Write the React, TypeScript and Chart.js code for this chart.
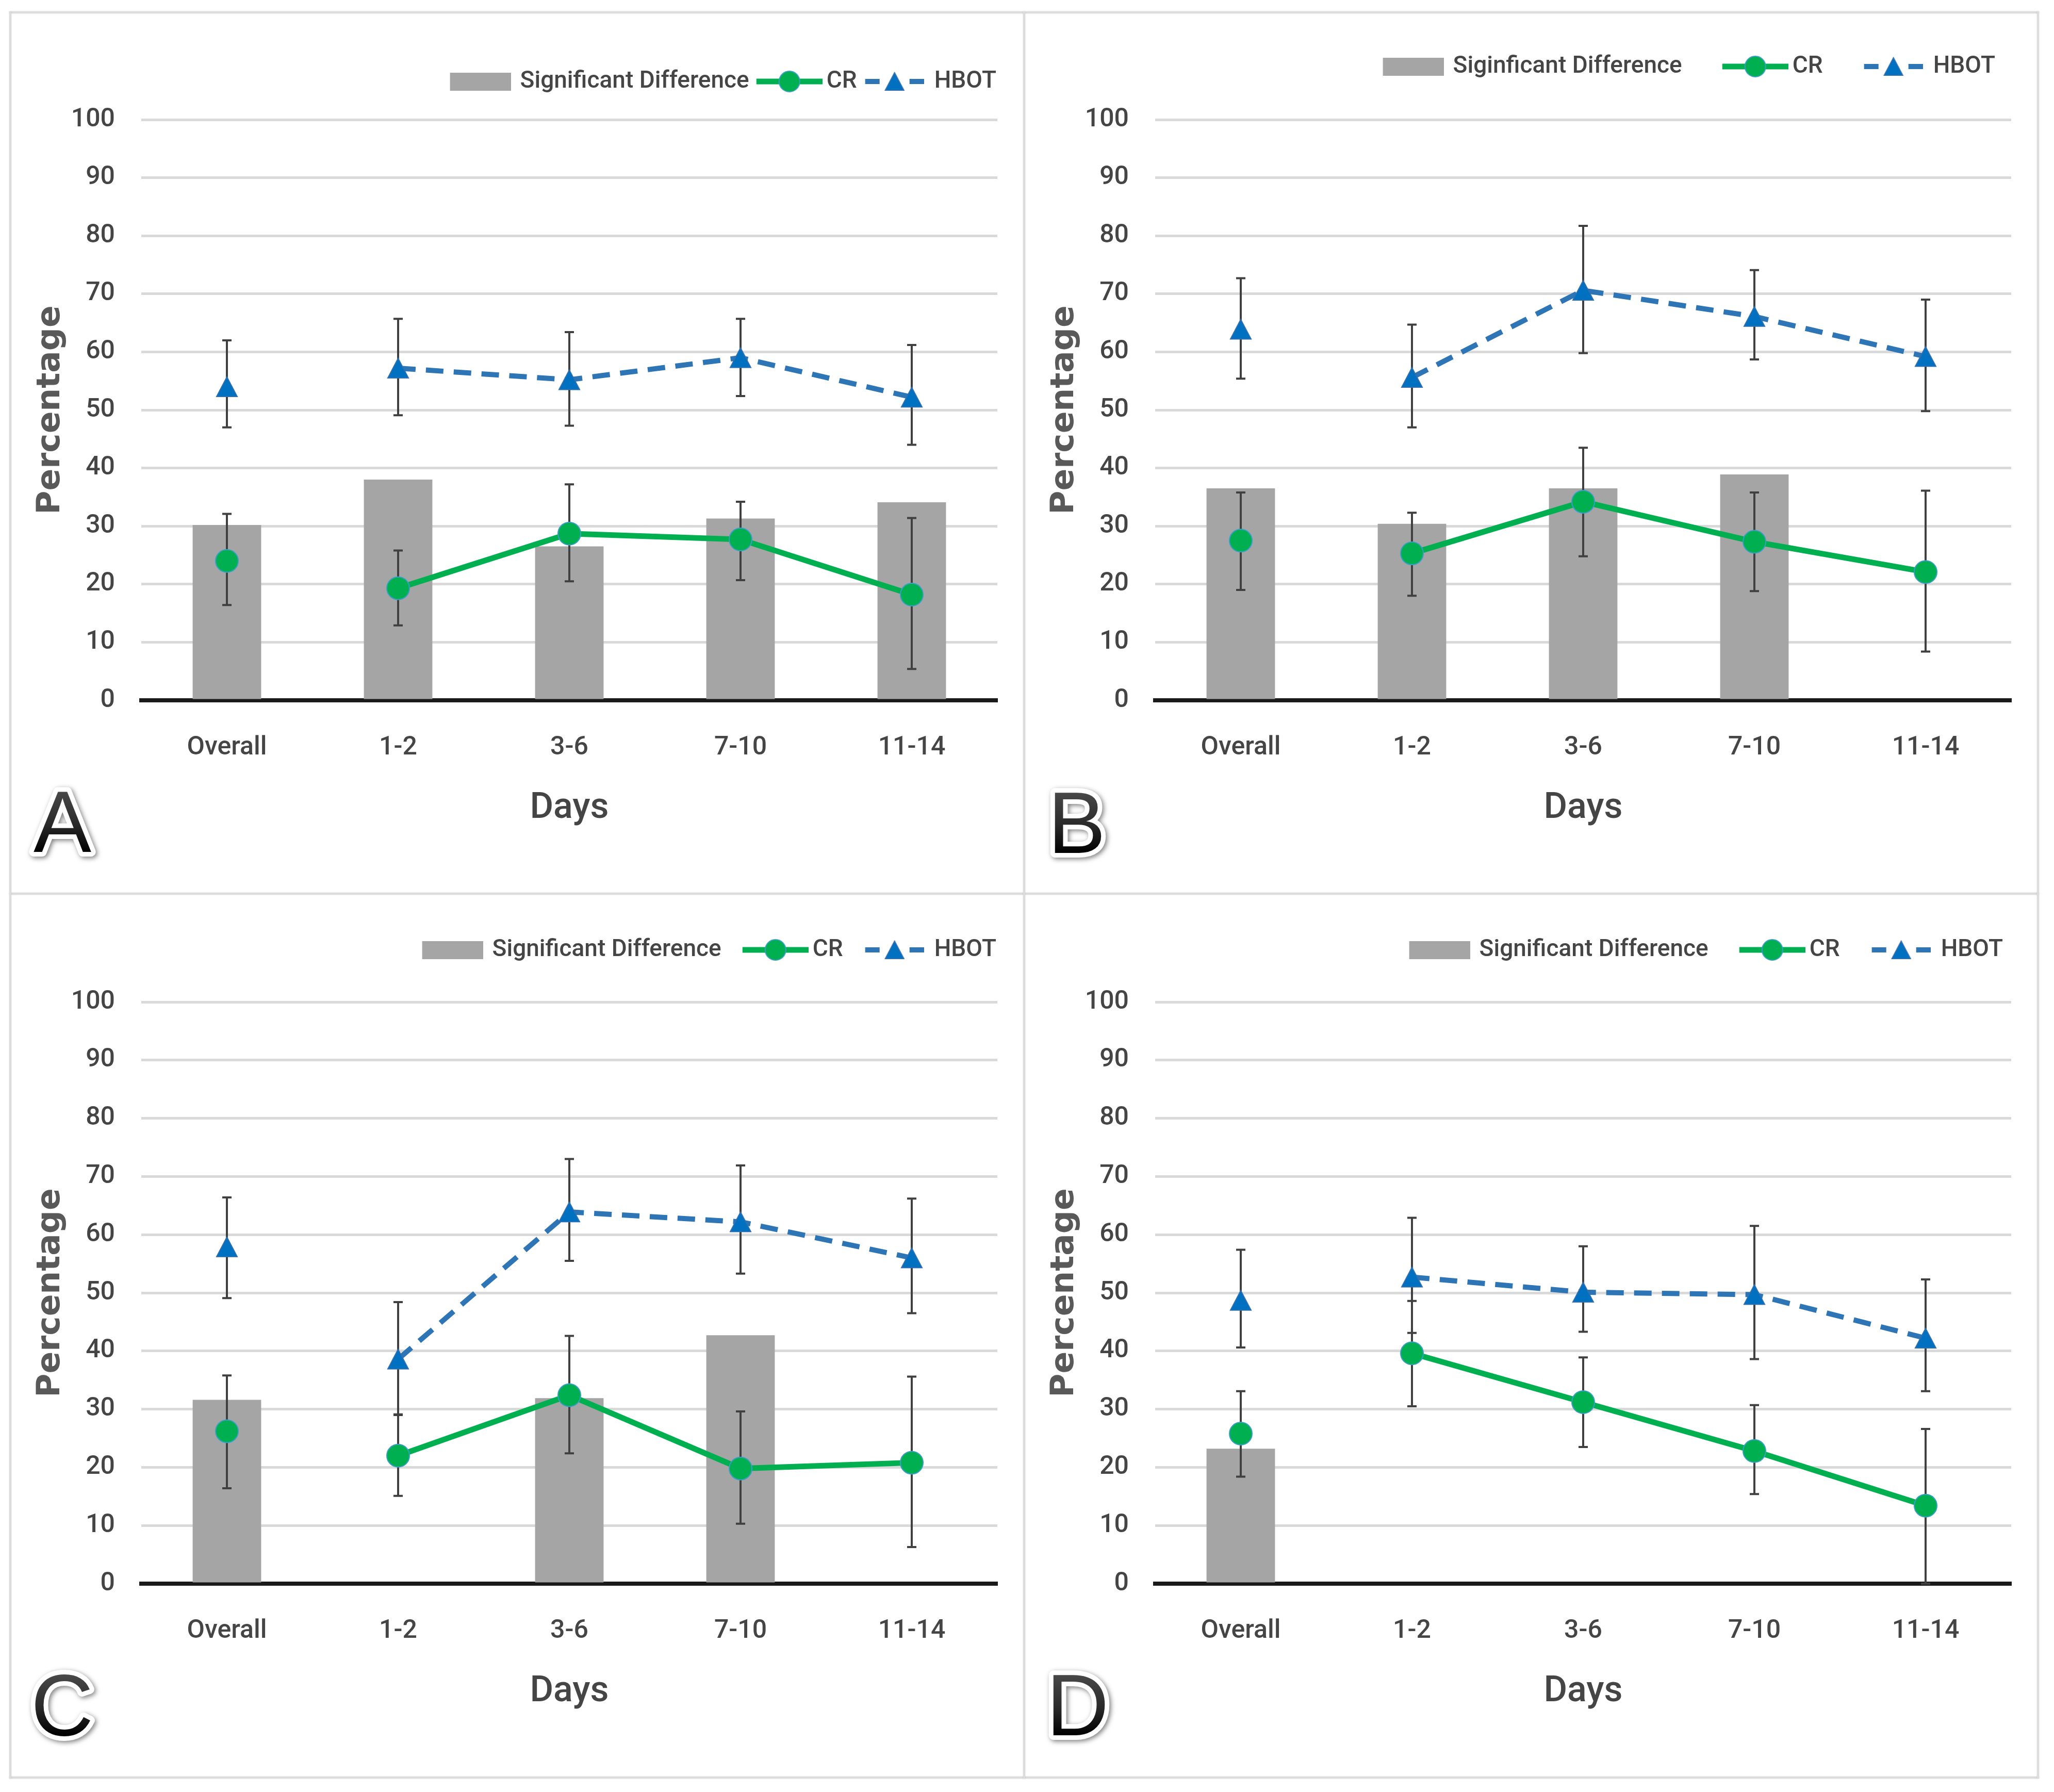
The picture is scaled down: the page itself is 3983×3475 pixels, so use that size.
import React, { useEffect, useRef } from 'react';
import { Chart, registerables } from 'chart.js';

Chart.register(...registerables);

// ---------------- data ----------------
const categories = ['Overall', '1-2', '3-6', '7-10', '11-14'];
const yTickMin = 0;
const yTickMax = 100;
const yTickStep = 10;

const barLabelA = 'Significant Difference';
const barLabelB = 'Siginficant Difference';
const crLabel = 'CR';
const hbotLabel = 'HBOT';
const panelLetters = ['A', 'B', 'C', 'D'];
const yAxisTitle = 'Percentage';
const xAxisTitle = 'Days';

// Panel A
const aSig = [30.2, 38.0, 26.5, 31.3, 34.1];
const aCR = [24.0, 19.3, 28.7, 27.7, 18.2];
const aCRLow = [16.4, 12.9, 20.5, 20.7, 5.4];
const aCRHigh = [32.1, 25.8, 37.2, 34.2, 31.4];
const aHBOT = [54.0, 57.2, 55.2, 59.0, 52.2];
const aHBOTLow = [47.0, 49.1, 47.3, 52.4, 44.0];
const aHBOTHigh = [62.0, 65.7, 63.4, 65.7, 61.2];

// Panel B
const bSig = [36.5, 30.4, 36.5, 38.9, null];
const bCR = [27.5, 25.3, 34.2, 27.3, 22.1];
const bCRLow = [19.0, 18.0, 24.8, 18.8, 8.4];
const bCRHigh = [35.8, 32.3, 43.5, 35.8, 36.1];
const bHBOT = [63.9, 55.6, 70.6, 66.1, 59.2];
const bHBOTLow = [55.4, 47.0, 59.8, 58.7, 49.8];
const bHBOTHigh = [72.7, 64.7, 81.7, 74.1, 69.0];

// Panel C
const cSig = [31.6, null, 31.9, 42.7, null];
const cCR = [26.2, 22.0, 32.4, 19.8, 20.8];
const cCRLow = [16.4, 15.1, 22.4, 10.3, 6.3];
const cCRHigh = [35.8, 29.1, 42.6, 29.6, 35.6];
const cHBOT = [57.9, 38.6, 63.9, 62.2, 56.0];
const cHBOTLow = [49.1, 29.0, 55.5, 53.3, 46.5];
const cHBOTHigh = [66.4, 48.4, 73.0, 71.9, 66.2];

// Panel D
const dSig = [23.2, null, null, null, null];
const dCR = [25.8, 39.6, 31.2, 22.8, 13.4];
const dCRLow = [18.4, 30.5, 23.5, 15.4, 0];
const dCRHigh = [33.1, 48.6, 38.9, 30.7, 26.6];
const dHBOT = [48.7, 52.7, 50.1, 49.7, 42.2];
const dHBOTLow = [40.6, 43.1, 43.3, 38.6, 33.1];
const dHBOTHigh = [57.4, 62.9, 58.0, 61.5, 52.3];

// ---------------- styles ----------------
const BAR_COLOR = '#A5A5A5';
const CR_COLOR = '#00B050';
const CR_EDGE = '#3A9FC4';
const HBOT_LINE = '#2E75B6';
const HBOT_FILL = '#0070C0';
const TEXT_COLOR = '#454545';
const ERR_COLOR = '#404040';
const GRID_COLOR = '#D9D9D9';
const FONT = "Roboto, 'Liberation Sans', sans-serif";
const FONT_WEIGHT = 500;
const LEGEND_FS = 46;
const TICK_FS = 50;
const DAYS_FS = 70;

type PanelSpec = {
  letter: string;
  barLabel: string;
  sig: (number | null)[];
  cr: number[]; crLo: number[]; crHi: number[];
  hb: number[]; hbLo: number[]; hbHi: number[];
  left: number; top: number; w: number; h: number;
  plotTop: number; plotBottom: number;
  legendCenter: number; lp: number; S: number;
  letterX: number; letterY: number;
};

const panels: PanelSpec[] = [
  { letter: panelLetters[0], barLabel: barLabelA, sig: aSig, cr: aCR, crLo: aCRLow, crHi: aCRHigh, hb: aHBOT, hbLo: aHBOTLow, hbHi: aHBOTHigh,
    left: 20, top: 24, w: 1966, h: 1709, plotTop: 208, plotBottom: 1334, legendCenter: 134, lp: 2, S: 150, letterX: 45, letterY: 1628 },
  { letter: panelLetters[1], barLabel: barLabelB, sig: bSig, cr: bCR, crLo: bCRLow, crHi: bCRHigh, hb: bHBOT, hbLo: bHBOTLow, hbHi: bHBOTHigh,
    left: 1986, top: 24, w: 1966, h: 1709, plotTop: 208, plotBottom: 1334, legendCenter: 105, lp: 31, S: 214, letterX: 46, letterY: 1630 },
  { letter: panelLetters[2], barLabel: barLabelA, sig: cSig, cr: cCR, crLo: cCRLow, crHi: cCRHigh, hb: cHBOT, hbLo: cHBOTLow, hbHi: cHBOTHigh,
    left: 20, top: 1733, w: 1966, h: 1714, plotTop: 210, plotBottom: 1338, legendCenter: 109, lp: 2, S: 177, letterX: 40, letterY: 1632 },
  { letter: panelLetters[3], barLabel: barLabelA, sig: dSig, cr: dCR, crLo: dCRLow, crHi: dCRHigh, hb: dHBOT, hbLo: dHBOTLow, hbHi: dHBOTHigh,
    left: 1986, top: 1733, w: 1966, h: 1714, plotTop: 210, plotBottom: 1338, legendCenter: 109, lp: 16, S: 196, letterX: 43, letterY: 1632 },
];

// ---------------- helpers ----------------
function drawTriangle(ctx: CanvasRenderingContext2D, cx: number, cy: number, w: number, h: number) {
  ctx.beginPath();
  ctx.moveTo(cx, cy - h / 2);
  ctx.lineTo(cx + w / 2, cy + h / 2);
  ctx.lineTo(cx - w / 2, cy + h / 2);
  ctx.closePath();
  ctx.fillStyle = HBOT_FILL;
  ctx.fill();
  ctx.lineWidth = 2;
  ctx.strokeStyle = '#2F6FB0';
  ctx.stroke();
}

function triangleMarker(): HTMLCanvasElement {
  const c = document.createElement('canvas');
  c.width = 48; c.height = 44;
  const ctx = c.getContext('2d')!;
  drawTriangle(ctx, 24, 22, 40, 38);
  return c;
}

function legendImage(kind: 'bar' | 'cr' | 'hb', B: number, g: number, V: number): HTMLCanvasElement {
  const W = Math.round(B + LEGEND_FS - 2 * g);
  const H = 52;
  const c = document.createElement('canvas');
  c.width = W; c.height = H;
  const ctx = c.getContext('2d')!;
  const L = W - V;
  const cy = H / 2;
  if (kind === 'bar') {
    ctx.fillStyle = BAR_COLOR;
    ctx.fillRect(L, cy - 17, V, 35);
  } else if (kind === 'cr') {
    ctx.strokeStyle = CR_COLOR;
    ctx.lineWidth = 11;
    ctx.beginPath(); ctx.moveTo(L, cy); ctx.lineTo(L + V, cy); ctx.stroke();
    ctx.beginPath(); ctx.arc(L + V / 2, cy, 20, 0, Math.PI * 2);
    ctx.fillStyle = CR_COLOR; ctx.fill();
    ctx.lineWidth = 2; ctx.strokeStyle = CR_EDGE; ctx.stroke();
  } else {
    ctx.strokeStyle = HBOT_LINE;
    ctx.lineWidth = 10;
    ctx.beginPath(); ctx.moveTo(L, cy); ctx.lineTo(L + 28, cy); ctx.stroke();
    ctx.beginPath(); ctx.moveTo(L + V - 28, cy); ctx.lineTo(L + V, cy); ctx.stroke();
    drawTriangle(ctx, L + V / 2, cy, 36, 34);
  }
  return c;
}

const errorBarPlugin = {
  id: 'errorBars',
  beforeDatasetDraw(chart: any, args: any) {
    const ds = chart.data.datasets[args.index];
    if (!ds.errLo) return;
    const meta = chart.getDatasetMeta(args.index);
    const ys = chart.scales.y;
    const ctx = chart.ctx as CanvasRenderingContext2D;
    ctx.save();
    ctx.strokeStyle = ERR_COLOR;
    ctx.lineWidth = 4;
    ctx.lineCap = 'butt';
    meta.data.forEach((pt: any, i: number) => {
      const lo = ds.errLo[i];
      const hi = ds.errHi[i];
      if (lo == null || hi == null) return;
      const x = pt.x;
      const y1 = ys.getPixelForValue(lo);
      const y2 = ys.getPixelForValue(hi);
      ctx.beginPath();
      ctx.moveTo(x, y1); ctx.lineTo(x, y2);
      ctx.moveTo(x - 9, y1); ctx.lineTo(x + 9, y1);
      ctx.moveTo(x - 9, y2); ctx.lineTo(x + 9, y2);
      ctx.stroke();
    });
    ctx.restore();
  },
};

const letterPlugin = {
  id: 'panelLetter',
  afterDraw(chart: any, _args: any, opts: any) {
    if (!opts || !opts.text) return;
    const ctx = chart.ctx as CanvasRenderingContext2D;
    const size = 168;
    ctx.save();
    ctx.font = `${size}px 'Liberation Sans', Arial, sans-serif`;
    ctx.textAlign = 'left';
    ctx.textBaseline = 'alphabetic';
    ctx.lineJoin = 'round';
    ctx.shadowColor = 'rgba(0,0,0,0.5)';
    ctx.shadowBlur = 10;
    ctx.shadowOffsetX = 3;
    ctx.shadowOffsetY = 3;
    ctx.lineWidth = 18;
    ctx.strokeStyle = '#ffffff';
    ctx.strokeText(opts.text, opts.x, opts.y);
    ctx.shadowColor = 'rgba(0,0,0,0)';
    ctx.shadowBlur = 0;
    const grad = ctx.createLinearGradient(0, opts.y - size * 0.72, 0, opts.y);
    grad.addColorStop(0, '#4a4a4a');
    grad.addColorStop(0.55, '#2a2a2a');
    grad.addColorStop(1, '#000000');
    ctx.fillStyle = grad;
    ctx.fillText(opts.text, opts.x, opts.y);
    ctx.restore();
  },
};

function Panel({ p }: { p: PanelSpec }) {
  const ref = useRef<HTMLCanvasElement | null>(null);
  useEffect(() => {
    if (!ref.current) return;
    const B = p.S - LEGEND_FS / 2 - p.lp;
    const imgBar = legendImage('bar', B, 18, 118);
    const imgCR = legendImage('cr', B, 8, 128);
    const imgHB = legendImage('hb', B, 20, 114);
    const tri = triangleMarker();
    const legendBottom = p.legendCenter + LEGEND_FS / 2 + 10;
    const spacer = Math.max(13, Math.round(p.plotTop - legendBottom));
    const daysHalf = (DAYS_FS * 1.2) / 2;
    const xAxisH = Math.round(210 + daysHalf);
    const padBottom = p.h - p.plotBottom - xAxisH;

    const chart = new Chart(ref.current, {
      type: 'bar',
      data: {
        labels: categories,
        datasets: [
          {
            type: 'line',
            label: hbotLabel,
            data: p.hb,
            borderColor: HBOT_LINE,
            borderWidth: 10,
            borderDash: [34, 20],
            pointStyle: tri as any,
            pointRadius: 20,
            pointHoverRadius: 20,
            backgroundColor: HBOT_FILL,
            fill: false,
            tension: 0,
            order: 1,
            segment: { borderColor: (c: any) => (c.p0DataIndex === 0 ? 'rgba(0,0,0,0)' : undefined) },
            errLo: p.hbLo,
            errHi: p.hbHi,
          } as any,
          {
            type: 'line',
            label: crLabel,
            data: p.cr,
            borderColor: CR_COLOR,
            borderWidth: 11,
            pointStyle: 'circle',
            pointRadius: 22,
            pointHoverRadius: 22,
            pointBackgroundColor: CR_COLOR,
            pointBorderColor: CR_EDGE,
            pointBorderWidth: 2,
            fill: false,
            tension: 0,
            order: 2,
            segment: { borderColor: (c: any) => (c.p0DataIndex === 0 ? 'rgba(0,0,0,0)' : undefined) },
            errLo: p.crLo,
            errHi: p.crHi,
          } as any,
          {
            type: 'bar',
            label: p.barLabel,
            data: p.sig as any,
            backgroundColor: BAR_COLOR,
            borderWidth: 0,
            barPercentage: 0.4,
            categoryPercentage: 1,
            order: 3,
          },
        ],
      },
      options: {
        responsive: false,
        animation: false,
        devicePixelRatio: 1,
        events: [],
        layout: { padding: { left: 0, top: 0, right: 52, bottom: padBottom } },
        scales: {
          x: {
            offset: true,
            grid: { display: false, drawTicks: false },
            border: { display: true, color: '#1a1a1a', width: 8 },
            ticks: { color: TEXT_COLOR, font: { family: FONT, size: TICK_FS, weight: FONT_WEIGHT as any }, padding: 62, maxRotation: 0 },
            title: { display: true, text: xAxisTitle, color: TEXT_COLOR, font: { family: FONT, size: DAYS_FS, weight: FONT_WEIGHT as any }, padding: { top: 0, bottom: 0 } },
            afterFit: (s: any) => { s.height = xAxisH; },
          },
          y: {
            min: yTickMin,
            max: yTickMax,
            ticks: { stepSize: yTickStep, color: TEXT_COLOR, font: { family: FONT, size: TICK_FS, weight: FONT_WEIGHT as any }, padding: 51 },
            grid: { color: GRID_COLOR, lineWidth: 5, drawTicks: false },
            border: { display: false },
            title: { display: true, text: yAxisTitle, color: '#595959', font: { family: "'DejaVu Sans', sans-serif", size: 63, weight: 'bold' }, padding: { top: 41, bottom: 0 } },
            afterFit: (s: any) => { s.width = 254; s.paddingTop = p.plotTop; },
          },
        },
        plugins: {
          tooltip: { enabled: false },
          subtitle: {
            display: true,
            text: '',
            weight: 500,
            position: 'top',
            font: { size: 10 },
            padding: { top: spacer - 12, bottom: 0 },
          } as any,
          legend: {
            display: true,
            position: 'top',
            align: 'end',
            labels: {
              usePointStyle: true,
              pointStyleWidth: B,
              padding: p.lp,
              color: TEXT_COLOR,
              font: { family: FONT, size: LEGEND_FS, weight: FONT_WEIGHT as any },
              generateLabels: () => [
                { text: p.barLabel, pointStyle: imgBar as any, fillStyle: BAR_COLOR, strokeStyle: BAR_COLOR, lineWidth: 0, hidden: false, datasetIndex: 2, fontColor: TEXT_COLOR },
                { text: crLabel, pointStyle: imgCR as any, fillStyle: CR_COLOR, strokeStyle: CR_COLOR, lineWidth: 0, hidden: false, datasetIndex: 1, fontColor: TEXT_COLOR },
                { text: hbotLabel, pointStyle: imgHB as any, fillStyle: HBOT_FILL, strokeStyle: HBOT_LINE, lineWidth: 0, hidden: false, datasetIndex: 0, fontColor: TEXT_COLOR },
              ] as any,
            },
          },
          panelLetter: { text: p.letter, x: p.letterX, y: p.letterY },
        } as any,
      },
      plugins: [errorBarPlugin, letterPlugin],
    });
    return () => chart.destroy();
  }, [p]);

  return (
    <canvas
      ref={ref}
      width={p.w}
      height={p.h}
      style={{ position: 'absolute', left: p.left, top: p.top, width: p.w, height: p.h, display: 'block' }}
    />
  );
}

const lineStyle = (l: number, t: number, w: number, h: number): React.CSSProperties => ({
  position: 'absolute', left: l, top: t, width: w, height: h, background: '#DCDCDC',
  boxShadow: '0 0 3px rgba(0,0,0,0.12)',
});

export default function App() {
  return (
    <div style={{ position: 'absolute', left: 0, top: 0, width: 3983, height: 3475, background: '#ffffff', overflow: 'hidden' }}>
      {panels.map((p) => <Panel key={p.letter} p={p} />)}
      <div style={lineStyle(18, 22, 3936, 4)} />
      <div style={lineStyle(18, 1731, 3936, 4)} />
      <div style={lineStyle(18, 3445, 3936, 4)} />
      <div style={lineStyle(18, 22, 4, 3427)} />
      <div style={lineStyle(1984, 22, 4, 3427)} />
      <div style={lineStyle(3950, 22, 4, 3427)} />
    </div>
  );
}
